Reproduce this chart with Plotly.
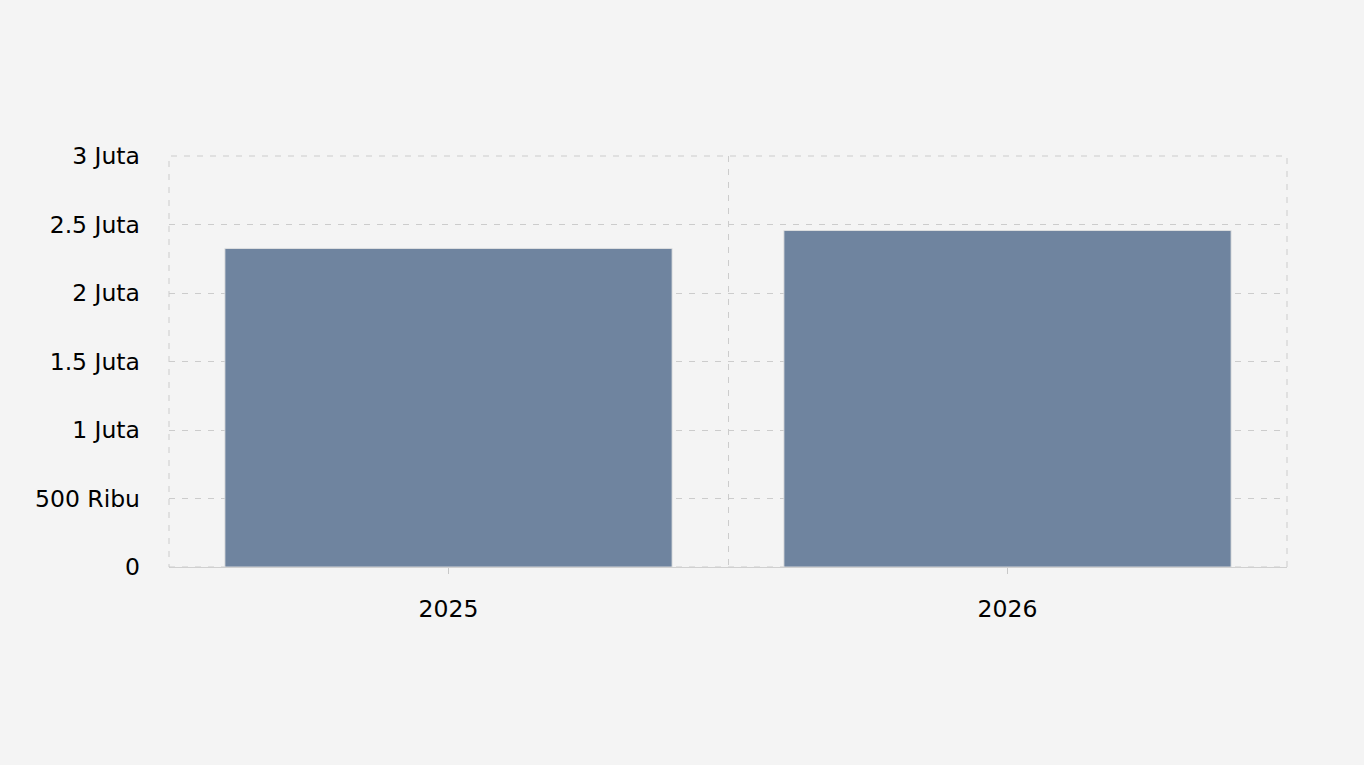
import plotly.graph_objects as go

categories = ["2025", "2026"]
values = [2325000, 2456000]
y_tickvals = [0, 500000, 1000000, 1500000, 2000000, 2500000, 3000000]
y_ticktext = ["0", "500 Ribu", "1 Juta", "1.5 Juta", "2 Juta", "2.5 Juta", "3 Juta"]

xpos = list(range(len(categories)))
bounds = [i - 0.5 for i in range(len(categories) + 1)]

fig = go.Figure(go.Bar(
    x=xpos, y=values, width=0.8,
    marker=dict(color="#6f849f", line=dict(color="rgba(225,225,225,0.9)", width=1)),
    hoverinfo="x+y",
))

grid = "#cccccc"
dash = "6px,7px"
fig.update_layout(
    width=1364, height=765,
    paper_bgcolor="#f4f4f4", plot_bgcolor="#f4f4f4",
    margin=dict(l=169, r=77, t=156, b=198),
    font=dict(family="DejaVu Sans", size=23.5, color="#000000"),
    showlegend=False,
    bargap=0.2,
    shapes=[dict(type="rect", xref="paper", yref="paper", x0=0, x1=1, y0=0, y1=1,
                 line=dict(color=grid, width=1, dash=dash), layer="below")],
)
fig.update_xaxes(
    range=[-0.5, len(categories) - 0.5],
    tickvals=xpos, ticktext=categories,
    showgrid=False, zeroline=False,
    showline=True, linecolor="#d0d0d0", linewidth=1,
    ticks="outside", ticklen=6, tickcolor="#c8c8c8", tickwidth=1,
    ticklabelstandoff=15,
    minor=dict(tickvals=bounds, showgrid=True, gridcolor=grid, griddash=dash, gridwidth=1, ticks=""),
)
fig.update_yaxes(
    range=[0, 3000000],
    tickvals=y_tickvals, ticktext=y_ticktext,
    showgrid=True, gridcolor=grid, griddash=dash, gridwidth=1,
    zeroline=False, showline=False,
    ticks="", ticklabelstandoff=28,
)
fig.write_html("out.html", config={"displayModeBar": False},
               post_script="document.body.style.margin='0';document.body.style.background='#f4f4f4';")
